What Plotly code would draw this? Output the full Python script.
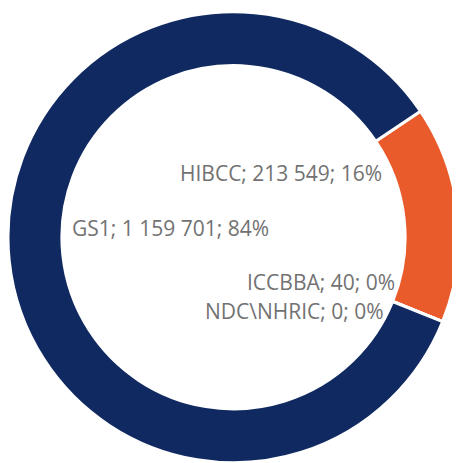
import plotly.graph_objects as go

labels = ["HIBCC", "ICCBBA", "NDC\\NHRIC", "GS1"]
values = [213549, 40, 0, 1159701]
display_values = ["213 549", "40", "0", "1 159 701"]
percents = ["16%", "0%", "0%", "84%"]
colors = ["#EA5B2C", "#EA5B2C", "#102A61", "#102A61"]

# page body has an 8px margin, so the figure is sized to fill the rest of the window
W, H = 452, 455

fig = go.Figure(go.Pie(
    labels=labels,
    values=values,
    sort=False,
    direction="clockwise",
    rotation=56,
    hole=0.761,
    textinfo="none",
    marker=dict(colors=colors, line=dict(color="white", width=3)),
    domain=dict(x=[0.0, 451 / W], y=[0.0, (H - 3.5) / H]),
    showlegend=False,
    hoverinfo="label+value+percent",
))

# label positions (pixels, figure coordinates) inside the hole
label_pos = {
    "HIBCC": (376, 165, "right"),
    "GS1": (62, 220, "left"),
    "ICCBBA": (389, 274, "right"),
    "NDC\\NHRIC": (378, 303, "right"),
}
for lab, dv, pc in zip(labels, display_values, percents):
    px, py, anchor = label_pos[lab]
    fig.add_annotation(
        x=px / W, y=1 - py / H, xref="paper", yref="paper",
        xanchor=anchor, yanchor="middle", showarrow=False,
        text=f"{lab}; {dv}; {pc}",
        font=dict(family="Open Sans", size=21, color="#727272"),
    )

fig.update_layout(
    width=W, height=H,
    margin=dict(l=0, r=0, t=0, b=0),
    paper_bgcolor="white", plot_bgcolor="white",
)
fig.write_html("out.html")
